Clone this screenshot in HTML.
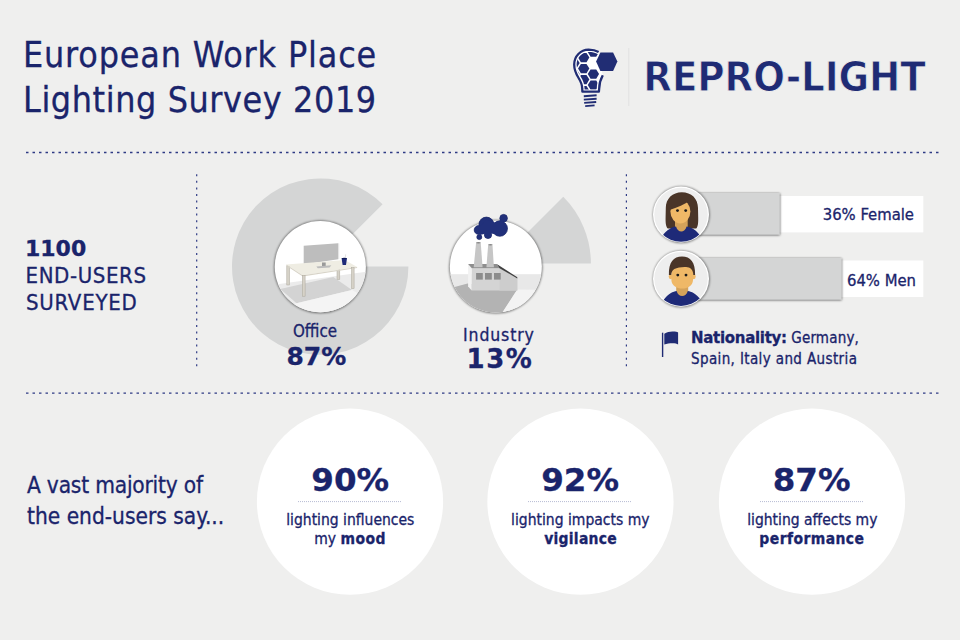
<!DOCTYPE html>
<html><head><meta charset="utf-8"><title>European Work Place Lighting Survey 2019</title>
<style>
html,body{margin:0;padding:0;background:#efefee;}
body{width:960px;height:640px;overflow:hidden;position:relative;}
svg{position:absolute;left:0;top:0;display:block;}
text{font-family:"DejaVu Sans Condensed","DejaVu Sans","Liberation Sans",sans-serif;fill:#1a246b;stroke:#1a246b;stroke-width:0.3px;}
.b{font-weight:700;}
.w{font-family:"DejaVu Sans","Liberation Sans",sans-serif;font-weight:700;}
</style></head><body>
<svg width="960" height="640" viewBox="0 0 960 640">
<defs>
  <filter id="sh" x="-20%" y="-20%" width="140%" height="140%">
    <feGaussianBlur stdDeviation="1.3"/>
  </filter>
  <clipPath id="cOff"><circle cx="320.3" cy="266.7" r="45.6"/></clipPath>
  <clipPath id="cInd"><circle cx="495.85" cy="266.6" r="46"/></clipPath>
  <clipPath id="cF"><circle cx="681" cy="214.5" r="27.2"/></clipPath>
  <clipPath id="cM"><circle cx="681" cy="278.7" r="27.2"/></clipPath>
  <filter id="bs" x="-10%" y="-20%" width="130%" height="150%">
    <feDropShadow dx="0.3" dy="0.5" stdDeviation="1.1" flood-color="#000" flood-opacity="0.75"/>
  </filter>
</defs>

<!-- ===== Header ===== -->
<text x="23" y="67.2" font-size="35.5" letter-spacing="0.85">European Work Place</text>
<text x="23" y="111.5" font-size="35.5" letter-spacing="0.6">Lighting Survey 2019</text>

<!-- logo -->
<g id="logo">
  <clipPath id="bulbIn"><path d="M598.2,54.2 C595.3,52.6 592,52 588.6,52 C582,52.2 576.6,57.4 576.6,64.5 C576.6,69.5 578.6,73.3 580.9,77 C582.9,80.3 584.5,84 584.5,88.2 L584.6,89.4 L596.6,89.4 L596.8,88.2 C596.8,83.6 598,79.2 600.4,75.4 L600.8,54.8 Z"/></clipPath>
  <path d="M598.6,52.0 C595.6,50.2 592,49.6 588.6,49.6 C580.6,49.8 574.2,56 574.2,64.5 C574.2,69.9 576.2,74.2 578.6,78 C580.6,81.2 582.2,84.4 582.2,88.4 L582.4,91.6 L598.9,91.6 L599.2,88.4 C599.2,84 600.6,79.2 602.8,75.2 L600,62 Z" fill="#fff"/>
  <g clip-path="url(#bulbIn)" fill="#212d74">
    <path d="M578.05,57.60 l2.83,-4.65 h5.65 l2.83,4.65 l-2.83,4.65 h-5.65 Z"/>
    <path d="M578.05,68.60 l2.83,-4.65 h5.65 l2.83,4.65 l-2.83,4.65 h-5.65 Z"/>
    <path d="M578.05,79.60 l2.83,-4.65 h5.65 l2.83,4.65 l-2.83,4.65 h-5.65 Z"/>
    <path d="M578.05,90.60 l2.83,-4.65 h5.65 l2.83,4.65 l-2.83,4.65 h-5.65 Z"/>
    <path d="M587.75,52.10 l2.83,-4.65 h5.65 l2.83,4.65 l-2.83,4.65 h-5.65 Z"/>
    <path d="M587.75,74.10 l2.83,-4.65 h5.65 l2.83,4.65 l-2.83,4.65 h-5.65 Z"/>
    <path d="M587.75,85.10 l2.83,-4.65 h5.65 l2.83,4.65 l-2.83,4.65 h-5.65 Z"/>
    <path d="M568.35,63.10 l2.83,-4.65 h5.65 l2.83,4.65 l-2.83,4.65 h-5.65 Z"/>
    <path d="M568.35,74.10 l2.83,-4.65 h5.65 l2.83,4.65 l-2.83,4.65 h-5.65 Z"/>
  </g>
  <path d="M598.6,52.0 C595.6,50.2 592,49.6 588.6,49.6 C580.6,49.8 574.2,56 574.2,64.5 C574.2,69.9 576.2,74.2 578.6,78 C580.6,81.2 582.2,84.4 582.2,88.4 L582.4,91.6 L598.9,91.6 L599.2,88.4 C599.2,84 600.6,79.2 602.8,75.2" fill="none" stroke="#212d74" stroke-width="2.3" stroke-linejoin="round"/>
  <path d="M596.1,61.5 L600.4,52.6 L613.1,52.6 L617.4,61.5 L613.1,71.0 L600.4,71.0 Z" fill="#212d74"/>
  <g stroke="#212d74" stroke-width="1.9" stroke-linecap="butt">
    <line x1="583.8" y1="96.2" x2="596.6" y2="95.3"/>
    <line x1="583.8" y1="99.6" x2="596.6" y2="98.7"/>
    <line x1="584.2" y1="102.9" x2="596.2" y2="102.0"/>
    <line x1="585.2" y1="106.1" x2="594.6" y2="105.4"/>
  </g>
</g>
<line x1="628.8" y1="48" x2="628.8" y2="106" stroke="#e2e2e2" stroke-width="1"/>
<text x="643.3" y="90.8" font-size="41.5" class="b" letter-spacing="-0.1" style="stroke:#efefee;stroke-width:0.8px;fill:#1f2b74">REPRO-LIGHT</text>

<!-- dotted separators -->
<line x1="26" y1="152.5" x2="940" y2="152.5" stroke="#2e3a84" stroke-width="1.3" stroke-dasharray="2.5 4"/>
<line x1="26" y1="393.2" x2="940" y2="393.2" stroke="#2e3a84" stroke-width="1.3" stroke-dasharray="2.5 4"/>
<line x1="196.7" y1="174.3" x2="196.7" y2="369" stroke="#2e3a84" stroke-width="1.2" stroke-dasharray="2 4.55"/>
<line x1="626.4" y1="174.3" x2="626.4" y2="369" stroke="#2e3a84" stroke-width="1.2" stroke-dasharray="2 4.55"/>

<!-- ===== Left stats ===== -->
<text x="25" y="256" font-size="22" class="w">1100</text>
<text x="25.6" y="282.8" font-size="22" letter-spacing="0.6">END-USERS</text>
<text x="26" y="310" font-size="22" letter-spacing="0.75">SURVEYED</text>

<!-- ===== Office pie ===== -->
<path d="M320.2,266.6 L408.4,266.6 A88.2,88.2 0 1 1 382.57,204.23 Z" fill="#d4d5d5"/>
<circle cx="320.3" cy="266.9" r="46.3" fill="#000" opacity="0.5" filter="url(#sh)"/>
<circle cx="320.3" cy="266.7" r="45.6" fill="#fff"/>
<g clip-path="url(#cOff)">
  <path d="M270,285.2 L370,271.1 L370,320 L270,320 Z" fill="#ebebeb"/>
  <path d="M280.2,289.1 L333.3,277.1 L352,289.9 L296.6,303.2 Z" fill="#d3d3d3"/>
  <path d="M296.6,303.2 L352,289.9 L370,300 L370,320 L270,320 L270,310 Z" fill="#f4f4f4"/>
  <g fill="#d6d2c8" stroke="#aca79c" stroke-width="0.5">
    <rect x="286.8" y="266" width="2.8" height="19"/>
    <rect x="337" y="268" width="2.8" height="11.4"/>
  </g>
  <path d="M303.7,245.8 L338.2,243.3 L338.2,259.2 L303.7,264.6 Z" fill="#bdbdbd"/>
  <path d="M338.2,243.3 L339.2,243.6 L339.2,259 L338.2,259.2 Z" fill="#e0e0e0"/>
  <path d="M286.3,264.6 L344.9,259.9 L357.1,266.9 L302.7,275.2 Z" fill="#efede3"/>
  <path d="M286.3,264.6 L302.7,275.2 L357.1,266.9 L357.1,268 L302.7,276.4 L286.3,265.8 Z" fill="#d8d4c8"/>
  <path d="M322,262.5 h3.7 v3.4 h-3.7 Z" fill="#9a9a9a"/>
  <path d="M316.3,266.4 L331.3,265.3 L329.6,267.4 L317.8,268.2 Z" fill="#bcbcbc"/>
  <g fill="#d6d2c8" stroke="#aca79c" stroke-width="0.5">
    <rect x="302.3" y="275.6" width="2.8" height="20.6"/>
    <rect x="351.5" y="267.6" width="2.6" height="21"/>
  </g>
  <path d="M341.6,258.3 L347,258.3 L346,265.1 L342.6,265.1 Z" fill="#1e2a78"/>
  <ellipse cx="344.3" cy="258.4" rx="2.7" ry="0.7" fill="#111a55"/>
  <line x1="345.4" y1="258" x2="345.6" y2="254.4" stroke="#cfcfcf" stroke-width="0.6"/>
</g>
<text x="315" y="336.6" font-size="16.8" text-anchor="middle">Office</text>
<text x="316.4" y="364.7" font-size="25" class="w" text-anchor="middle">87%</text>

<!-- ===== Industry ===== -->
<path d="M496.6,263.5 L563.28,196.82 A94.3,94.3 0 0 1 590.9,263.5 Z" fill="#d4d5d5"/>
<circle cx="495.85" cy="266.8" r="46.7" fill="#000" opacity="0.5" filter="url(#sh)"/>
<circle cx="495.85" cy="266.6" r="46" fill="#fff"/>
<g clip-path="url(#cInd)">
  <rect x="440" y="274.2" width="120" height="50" fill="#e8e8e8"/>
  <path d="M440,291 L467.6,283.6 L517.3,289.5 L500.5,316 L440,316 Z" fill="#b3b3b3"/>
  <path d="M517.3,289.5 L500,316 L560,316 L560,290 Z" fill="#f3f3f3"/>
  <path d="M468.1,264.1 L471.8,268.3 L471.8,290.4 L468.1,286.5 Z" fill="#f2f2f2"/>
  <path d="M471.8,268.3 L499.5,268.3 L517.3,278.2 L517.3,290.4 L471.8,290.4 Z" fill="#d4d4d4"/>
  <path d="M499.5,268.3 L517.3,278.2 L517.3,290.4 L499.5,290.4 Z" fill="#cdcdcd"/>
  <path d="M468.1,264.1 L496.7,264.1 L499.5,268.3 L471.8,268.3 Z" fill="#8e8e8e"/>
  <path d="M496.7,264.1 L517.3,277.2 L517.3,278.4 L499.5,268.3 Z" fill="#3f3f3f"/>
  <path d="M476.1,242.6 L480.7,242.6 L482.6,267.2 L473.7,267.2 Z" fill="#c6c6c6"/>
  <path d="M488.2,244.6 L492.5,244.6 L493.9,267.2 L486.4,267.2 Z" fill="#c6c6c6"/>
  <ellipse cx="478.4" cy="242.8" rx="2.3" ry="0.8" fill="#8a8a8a"/>
  <ellipse cx="490.35" cy="244.8" rx="2.15" ry="0.8" fill="#8a8a8a"/>
  <g fill="#8c8c8c">
    <rect x="476.1" y="273" width="6.7" height="6.6"/>
    <rect x="485" y="273" width="6.8" height="6.6"/>
    <rect x="494" y="273" width="6.7" height="6.6"/>
  </g>
</g>
<g fill="#21307a" stroke="#172263" stroke-width="0.7">
  <circle cx="486.4" cy="224.6" r="7.5"/>
  <circle cx="478.6" cy="230" r="4.4"/>
  <circle cx="499.8" cy="228.6" r="7.7"/>
  <circle cx="503.6" cy="218.2" r="3.8"/>
  <circle cx="488" cy="234.9" r="3.6"/>
  <circle cx="479.3" cy="237.1" r="2.5"/>
</g>
<g fill="#21307a">
  <circle cx="486.4" cy="224.6" r="7.15"/>
  <circle cx="478.6" cy="230" r="4.05"/>
  <circle cx="499.8" cy="228.6" r="7.35"/>
  <circle cx="503.6" cy="218.2" r="3.45"/>
  <circle cx="488" cy="234.9" r="3.25"/>
  <circle cx="479.3" cy="237.1" r="2.15"/>
  <path d="M478.5,228 L486.4,219.5 L494,222.5 L502.5,219.5 L506,229 L500,235 L488,233 L480,235 Z"/>
</g>
<text x="498.9" y="340.5" font-size="17.5" letter-spacing="0.85" text-anchor="middle">Industry</text>
<text x="500" y="367.6" font-size="26" class="w" letter-spacing="1.6" text-anchor="middle">13%</text>

<!-- ===== Gender bars ===== -->
<rect x="690" y="196" width="233.3" height="36.4" fill="#fff"/>
<rect x="690" y="193" width="89.5" height="41.5" fill="#d4d5d5" filter="url(#bs)"/>
<text x="914" y="219.5" font-size="16.5" text-anchor="end">36% Female</text>
<rect x="690" y="260.5" width="233.3" height="36.5" fill="#fff"/>
<rect x="690" y="258" width="151.3" height="41.5" fill="#d4d5d5" filter="url(#bs)"/>
<text x="916" y="285.75" font-size="16.5" text-anchor="end">64% Men</text>

<circle cx="681.3" cy="214.7" r="28.5" fill="#000" opacity="0.45" filter="url(#sh)"/>
<circle cx="681" cy="214.5" r="28" fill="#fff"/>
<circle cx="681" cy="214.5" r="26.7" fill="#eeeeee"/>
<g clip-path="url(#cF)">
  <path d="M667.8,228.6 C665.6,226.5 665.5,222 665.6,217 L665.8,208 C665.8,198.6 672.6,192.2 681.8,192.2 C691.4,192.2 698,198.6 698,208 L698.2,217 C698.3,222 698.2,226.5 696.2,228.6 Z" fill="#4a3528"/>
  <path d="M675,219 h12.7 v12 a6.35,4 0 0 1 -12.7,0 Z" fill="#d4a25a"/>
  <ellipse cx="680.4" cy="211.6" rx="10" ry="11.8" fill="#efb867"/>
  <path d="M669.6,210 C677,207.8 685,204.6 690.8,199.6 L690.8,196 C686,192.5 675,193 670,198.5 Z" fill="#4a3528"/>
  <path d="M662,236.5 C666.5,229.5 673,226.6 676,226.5 C677,230 679,231.6 681.3,231.6 C683.6,231.6 685.6,230 686.6,226.5 C690,226.8 696.5,229.5 700.5,236.5 L700.5,246 L662,246 Z" fill="#1e2a78"/>
  <circle cx="677.5" cy="210.6" r="1.45" fill="#1b1b1b"/>
  <circle cx="685.7" cy="210.6" r="1.45" fill="#1b1b1b"/>
</g>
<circle cx="681.3" cy="278.9" r="28.5" fill="#000" opacity="0.45" filter="url(#sh)"/>
<circle cx="681" cy="278.7" r="28" fill="#fff"/>
<circle cx="681" cy="278.7" r="26.7" fill="#eeeeee"/>
<g clip-path="url(#cM)">
  <path d="M676.2,283 h12 v11 a6,4 0 0 1 -12,0 Z" fill="#d4a25a"/>
  <ellipse cx="670.6" cy="276.6" rx="1.9" ry="2.6" fill="#efb867"/>
  <ellipse cx="693.8" cy="276.6" rx="1.9" ry="2.6" fill="#efb867"/>
  <path d="M671.4,264 L693,264 L693,280 C693,285 688,288.6 682.2,288.6 C676.4,288.6 671.4,285 671.4,280 Z" fill="#efb867"/>
  <path d="M668.9,275 C668.5,262.5 673.5,256.6 682,256.6 C690.5,256.6 695.5,262.5 695.1,275 L693.3,275 C693.2,270.5 691.2,267.8 687.5,267.2 C683.5,266.6 677.5,267.4 674.3,269 C672.3,270.3 671.3,272.5 671.2,275 Z" fill="#4a3528"/>
  <path d="M663.5,300 C668,294 673.5,291.2 676.6,291 C677.6,294.4 679.6,296 682.2,296 C684.8,296 686.8,294.4 687.8,291 C691,291.2 696.5,294 700.8,299.6 L700.8,310 L663.5,310 Z" fill="#1e2a78"/>
  <circle cx="677.8" cy="275.1" r="1.45" fill="#1b1b1b"/>
  <circle cx="686" cy="275.1" r="1.45" fill="#1b1b1b"/>
</g>

<!-- nationality -->
<path d="M661.9,332.7 h1.4 v24.3 h-1.4 Z" fill="#1f2b74"/>
<path d="M664.3,333.8 C667,332.0 670,331.4 673,331.5 C675.5,331.6 677.2,331.8 678.1,332.6 L678.1,344.6 C677,343.6 675,343.2 672.5,343.2 C669.5,343.2 666.8,343.5 664.3,344.6 Z" fill="#1f2b74"/>
<text x="691" y="342.9" font-size="15"><tspan class="w" letter-spacing="-0.3">Nationality:</tspan><tspan letter-spacing="0.2"> Germany,</tspan></text>
<text x="691" y="364" font-size="15" letter-spacing="0.38">Spain, Italy and Austria</text>

<!-- ===== Bottom ===== -->
<text x="27" y="493.4" font-size="22.5" letter-spacing="-0.2">A vast majority of</text>
<text x="27" y="524" font-size="22.5">the end-users say...</text>

<circle cx="350" cy="501.7" r="93.1" fill="#fff"/>
<circle cx="580.45" cy="501.7" r="93.1" fill="#fff"/>
<circle cx="812" cy="501.7" r="93.1" fill="#fff"/>

<g font-size="15.5" text-anchor="middle">
<text x="350.2" y="490.9" font-size="32.5" class="w">90%</text>
<line x1="298" y1="501.6" x2="402" y2="501.6" stroke="#b7bbd3" stroke-width="1" stroke-dasharray="1 1"/>
<text x="350.3" y="524.8">lighting influences</text>
<text x="350" y="544">my <tspan class="b" letter-spacing="0.4">mood</tspan></text>

<text x="580.1" y="490.9" font-size="32.5" class="w">92%</text>
<line x1="528" y1="501.6" x2="632" y2="501.6" stroke="#b7bbd3" stroke-width="1" stroke-dasharray="1 1"/>
<text x="580.3" y="524.8">lighting impacts my</text>
<text x="580.6" y="544" class="b" letter-spacing="0.25">vigilance</text>

<text x="811.6" y="490.9" font-size="32.5" class="w">87%</text>
<line x1="760" y1="501.6" x2="864" y2="501.6" stroke="#b7bbd3" stroke-width="1" stroke-dasharray="1 1"/>
<text x="812.3" y="524.8">lighting affects my</text>
<text x="811.9" y="544" class="b" letter-spacing="0.42">performance</text>
</g>
</svg>
</body></html>
